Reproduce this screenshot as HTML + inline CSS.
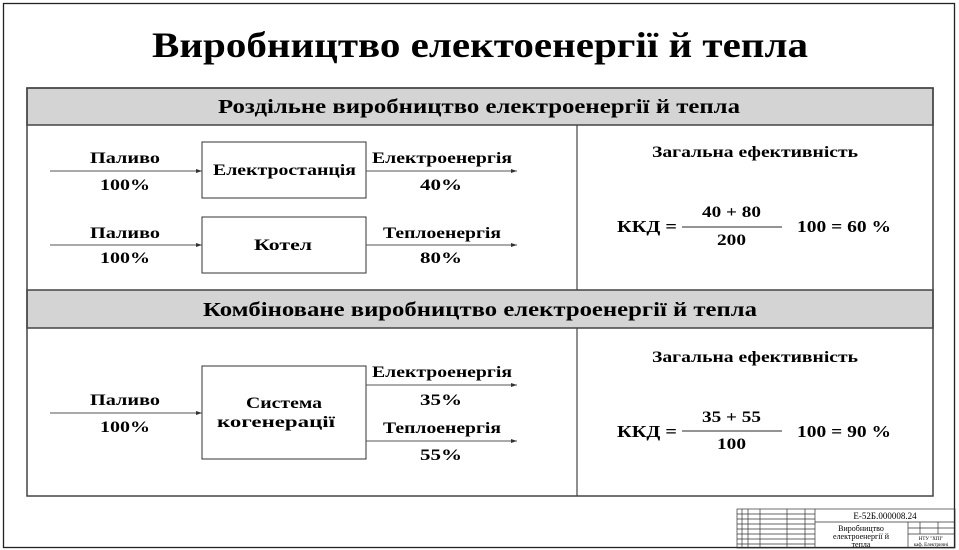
<!DOCTYPE html>
<html><head><meta charset="utf-8"><style>
html,body{margin:0;padding:0;background:#fff;}
svg{display:block;}
text{font-family:"Liberation Serif","DejaVu Serif",serif;font-weight:bold;fill:#000;}
.s text{font-weight:normal;}
</style></head><body>
<svg width="959" height="550" viewBox="0 0 959 550" xmlns="http://www.w3.org/2000/svg">
<defs><marker id="a" markerWidth="6" markerHeight="4" refX="6" refY="2" orient="auto"><path d="M0,0 L6,2 L0,4z" fill="#333"/></marker></defs>
<rect x="3.5" y="3.5" width="951" height="544" fill="none" stroke="#222" stroke-width="1.3"/>
<text x="152" y="57" font-size="36" textLength="656" lengthAdjust="spacingAndGlyphs">Виробництво електоенергії й тепла</text>
<rect x="27" y="88" width="906" height="37" fill="#d4d4d4" stroke="#444" stroke-width="1.5"/>
<rect x="27" y="290" width="906" height="38" fill="#d4d4d4" stroke="#444" stroke-width="1.5"/>
<rect x="27" y="88" width="906" height="408" fill="none" stroke="#444" stroke-width="1.5"/>
<line x1="577" y1="125" x2="577" y2="290" stroke="#444" stroke-width="1.2"/>
<line x1="577" y1="328" x2="577" y2="496" stroke="#444" stroke-width="1.2"/>
<text x="218" y="113" font-size="20" textLength="522" lengthAdjust="spacingAndGlyphs">Роздільне виробництво електроенергії й тепла</text>
<text x="203" y="316" font-size="20" textLength="554" lengthAdjust="spacingAndGlyphs">Комбіноване виробництво електроенергії й тепла</text>
<g font-size="16" lengthAdjust="spacingAndGlyphs">
<rect x="202" y="142" width="164" height="56" fill="none" stroke="#333"/>
<line x1="50" y1="171" x2="202" y2="171" stroke="#555" marker-end="url(#a)"/>
<line x1="366" y1="171" x2="517" y2="171" stroke="#555" marker-end="url(#a)"/>
<text x="90" y="163" textLength="70" lengthAdjust="spacingAndGlyphs">Паливо</text><text x="100" y="190" textLength="50" lengthAdjust="spacingAndGlyphs">100%</text>
<text x="213" y="175" textLength="143" lengthAdjust="spacingAndGlyphs">Електростанція</text>
<text x="372" y="163" textLength="140" lengthAdjust="spacingAndGlyphs">Електроенергія</text><text x="420" y="190" textLength="42" lengthAdjust="spacingAndGlyphs">40%</text>
<rect x="202" y="217" width="164" height="56" fill="none" stroke="#333"/>
<line x1="50" y1="245" x2="202" y2="245" stroke="#555" marker-end="url(#a)"/>
<line x1="366" y1="245" x2="517" y2="245" stroke="#555" marker-end="url(#a)"/>
<text x="90" y="238" textLength="70" lengthAdjust="spacingAndGlyphs">Паливо</text><text x="100" y="263" textLength="50" lengthAdjust="spacingAndGlyphs">100%</text>
<text x="254" y="250" textLength="58" lengthAdjust="spacingAndGlyphs">Котел</text>
<text x="383" y="238" textLength="118" lengthAdjust="spacingAndGlyphs">Теплоенергія</text><text x="420" y="263" textLength="42" lengthAdjust="spacingAndGlyphs">80%</text>
<rect x="202" y="366" width="164" height="93" fill="none" stroke="#333"/>
<line x1="50" y1="413" x2="202" y2="413" stroke="#555" marker-end="url(#a)"/>
<line x1="366" y1="385" x2="517" y2="385" stroke="#555" marker-end="url(#a)"/>
<line x1="366" y1="441" x2="517" y2="441" stroke="#555" marker-end="url(#a)"/>
<text x="90" y="405" textLength="70" lengthAdjust="spacingAndGlyphs">Паливо</text><text x="100" y="432" textLength="50" lengthAdjust="spacingAndGlyphs">100%</text>
<text x="246" y="408" textLength="76" lengthAdjust="spacingAndGlyphs">Система</text><text x="217" y="427" textLength="118" lengthAdjust="spacingAndGlyphs">когенерації</text>
<text x="372" y="377" textLength="140" lengthAdjust="spacingAndGlyphs">Електроенергія</text><text x="420" y="405" textLength="42" lengthAdjust="spacingAndGlyphs">35%</text>
<text x="383" y="433" textLength="118" lengthAdjust="spacingAndGlyphs">Теплоенергія</text><text x="420" y="460" textLength="42" lengthAdjust="spacingAndGlyphs">55%</text>
<text x="652" y="157" textLength="206" lengthAdjust="spacingAndGlyphs">Загальна ефективність</text>
<text x="702" y="217" textLength="59" lengthAdjust="spacingAndGlyphs">40 + 80</text><text x="717" y="245" textLength="29" lengthAdjust="spacingAndGlyphs">200</text>
<text x="652" y="362" textLength="206" lengthAdjust="spacingAndGlyphs">Загальна ефективність</text>
<text x="702" y="422" textLength="59" lengthAdjust="spacingAndGlyphs">35 + 55</text><text x="717" y="449" textLength="29" lengthAdjust="spacingAndGlyphs">100</text>
</g>
<g font-size="17">
<text x="617" y="232" textLength="60" lengthAdjust="spacingAndGlyphs">ККД =</text><text x="797" y="232" textLength="94" lengthAdjust="spacingAndGlyphs">100 = 60 %</text>
<text x="617" y="437" textLength="60" lengthAdjust="spacingAndGlyphs">ККД =</text><text x="797" y="437" textLength="94" lengthAdjust="spacingAndGlyphs">100 = 90 %</text>
</g>
<line x1="682" y1="227" x2="782" y2="227" stroke="#555" stroke-width="1.3"/>
<line x1="682" y1="431" x2="782" y2="431" stroke="#555" stroke-width="1.3"/>
<g stroke="#333" stroke-width="0.7" fill="none">
<rect x="737" y="509" width="218" height="39"/>
<line x1="815" y1="509" x2="815" y2="548"/>
<line x1="815" y1="522" x2="955" y2="522"/>
<line x1="908" y1="522" x2="908" y2="548"/>
<line x1="908" y1="528" x2="955" y2="528"/>
<line x1="908" y1="534" x2="955" y2="534"/>
<line x1="920" y1="522" x2="920" y2="534"/>
<line x1="938" y1="522" x2="938" y2="534"/>
<line x1="742" y1="509" x2="742" y2="548"/>
<line x1="748" y1="509" x2="748" y2="548"/>
<line x1="760" y1="509" x2="760" y2="548"/>
<line x1="787" y1="509" x2="787" y2="548"/>
<line x1="805" y1="509" x2="805" y2="548"/>
<line x1="737" y1="514" x2="815" y2="514"/>
<line x1="737" y1="519" x2="815" y2="519"/>
<line x1="737" y1="524" x2="815" y2="524"/>
<line x1="737" y1="529" x2="815" y2="529"/>
<line x1="737" y1="534" x2="815" y2="534"/>
<line x1="737" y1="539" x2="815" y2="539"/>
<line x1="737" y1="544" x2="815" y2="544"/>
</g>
<g class="s">
<text x="885" y="519" font-size="9" text-anchor="middle" fill="#333">Е-52Б.000008.24</text>
<text x="861" y="531" font-size="8" text-anchor="middle" fill="#444">Виробництво</text>
<text x="861" y="539" font-size="8" text-anchor="middle" fill="#444">електроенергії й</text>
<text x="861" y="547" font-size="8" text-anchor="middle" fill="#444">тепла</text>
<text x="931" y="540" font-size="5" text-anchor="middle" fill="#555">НТУ "ХПІ"</text>
<text x="931" y="546" font-size="5" text-anchor="middle" fill="#555">каф. Електричні</text>
</g>
</svg>
</body></html>
